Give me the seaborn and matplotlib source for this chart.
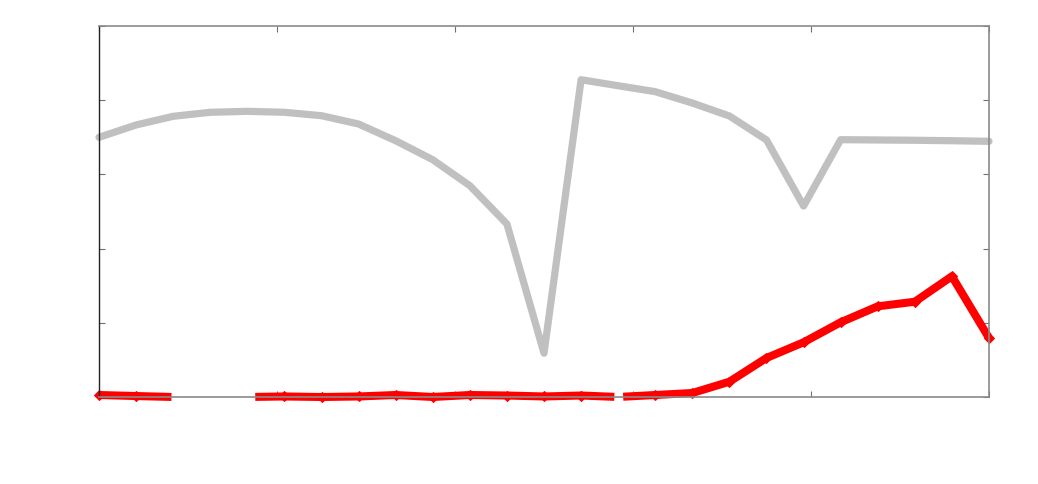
import numpy as np
import pandas as pd
import matplotlib
matplotlib.use("Agg")
import matplotlib.pyplot as plt
import seaborn as sns

# values, 25 evenly spaced samples
steps = list(range(25))
grey_vals = [35.0, 36.66, 37.83, 38.37, 38.50, 38.37, 37.91, 36.79, 34.54, 31.98,
             28.48, 23.32, 5.9, 42.76, 41.95, 41.15, 39.62, 37.87, 34.64, 25.74,
             34.68, 34.64, 34.60, 34.54, 34.46]
red_vals = [0.27, 0.13, 0.0, 0.0, 0.0, 0.07, 0.0, 0.07, 0.27, 0.0,
            0.27, 0.2, 0.07, 0.2, 0.0, 0.27, 0.54, 2.06, 5.26, 7.37,
            10.07, 12.22, 12.84, 16.27, 7.95]
red_marked = [0, 1, 5, 6, 7, 8, 9, 10, 11, 12, 13, 15, 16, 17, 18, 19, 20, 21, 22, 23, 24]

df = pd.DataFrame({"step": steps, "grey": grey_vals, "red": red_vals})

sns.set_style("white")
fig = plt.figure(figsize=(10.38, 4.85), dpi=100)
ax = fig.add_axes([99 / 1038, 1 - 398 / 485, 890 / 1038, 371 / 485])

sns.lineplot(data=df, x="step", y="grey", ax=ax, color="#c0c0c0", lw=5.2,
             clip_on=False, zorder=2)
sns.lineplot(data=df, x="step", y="red", ax=ax, color="#ff0000", lw=5.8,
             linestyle=(0, (9, 10.4, 44.6, 1.1, 200, 1)),
             marker="D", markersize=5, markevery=red_marked,
             markeredgecolor="#ff0000", clip_on=False, zorder=3)

ax.set_xlim(0, 24)
ax.set_ylim(0, 50)
ax.set_xticks(np.linspace(0, 24, 6))
ax.set_yticks(np.arange(0, 51, 10))
ax.set_xticklabels([])
ax.set_yticklabels([])
ax.set_xlabel("")
ax.set_ylabel("")
ax.tick_params(direction="in", length=4, width=0.8, color="#707070",
               top=True, right=True, bottom=True, left=True)

for side in ["top", "right", "bottom"]:
    ax.spines[side].set_color("#8a8a8a")
    ax.spines[side].set_linewidth(1.2)
    ax.spines[side].set_zorder(4)
ax.spines["left"].set_color("#222222")
ax.spines["left"].set_linewidth(1.0)
ax.spines["left"].set_zorder(4)

plt.savefig("out.png", dpi=100)
plt.close()
